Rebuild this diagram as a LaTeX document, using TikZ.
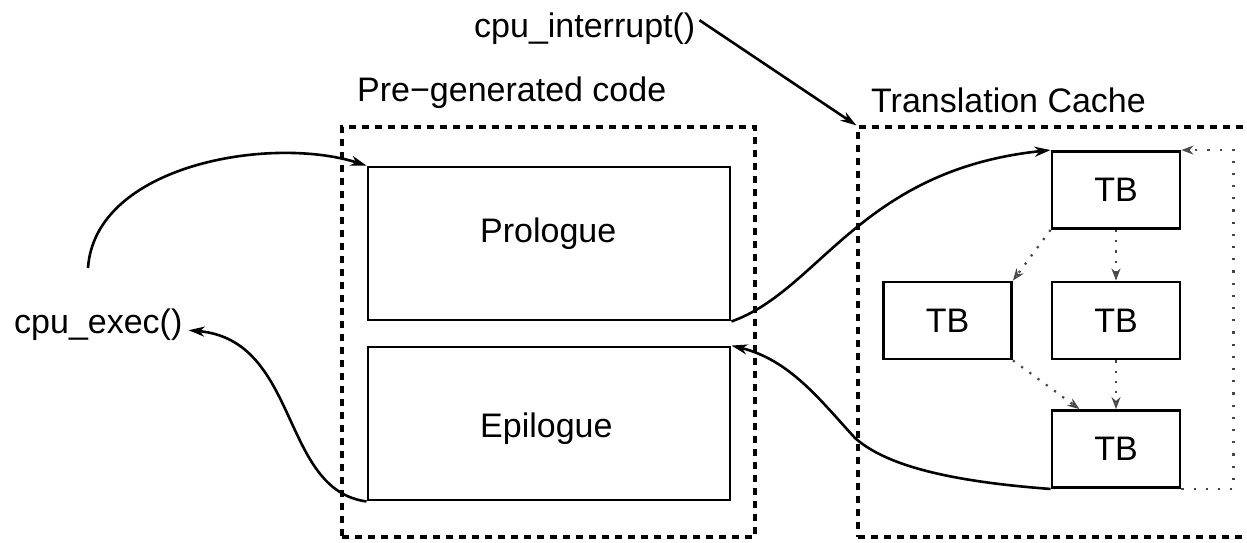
\documentclass[tikz,border=0pt]{standalone}
\usepackage{fontspec}
\setmainfont{Liberation Sans}
\usetikzlibrary{arrows.meta,calc}
\begin{document}
\begin{tikzpicture}[x=1pt,y=-1pt,
  font=\fontsize{34}{40}\selectfont,
  box/.style={draw, line width=2.9pt, inner sep=0pt},
  tb/.style={box, minimum width=128pt, minimum height=77pt},
  codebox/.style={box, minimum width=362pt, minimum height=153pt},
  container/.style={draw, line width=3.2pt, dash pattern=on 7pt off 6pt, inner sep=0pt},
  lbl/.style={inner sep=0pt, anchor=base west},
  conn/.style={line width=2.6pt, -{Stealth[length=16pt, width=10pt, inset=5pt]}},
  link/.style={gray!55!black, line width=2.2pt, dash pattern=on 2.2pt off 8pt,
    -{Stealth[open, length=12pt, width=9pt, line width=1.6pt]}},
  loop/.style={gray!55!black, line width=2.2pt, dash pattern=on 2.2pt off 10pt,
    -{Stealth[open, length=12pt, width=9pt, line width=1.6pt]}}]
  \useasboundingbox (0,0) rectangle (1247,542);
  \clip (0,0) rectangle (1247,542);

  % containers
  \node[container, minimum width=413pt, minimum height=410pt] (pre) at (548.5,332) {};
  \node[container, minimum width=410pt, minimum height=410pt] (tc) at (1063,332) {};

  % titles and entry points
  \node[lbl] (prelbl) at (357,101) {Pre−generated code};
  \node[lbl] (tclbl) at (871,112) {Translation Cache};
  \node[lbl] (intr) at (474,37) {cpu\_interrupt()};
  \node[lbl] (exec) at (14,333) {cpu\_exec()};

  % pre-generated code blocks
  \node[codebox] (pro) at (549,243.5) {};
  \node[codebox] (epi) at (549,423.5) {};
  \node[lbl] (protxt) at (480,242) {Prologue};
  \node[lbl] (epitxt) at (480,437) {Epilogue};

  % translated blocks
  \node[tb] (tbt) at (1116,190) {TB};
  \node[tb] (tbl) at (947.5,320.5) {TB};
  \node[tb] (tbm) at (1116,320.5) {TB};
  \node[tb] (tbb) at (1116,449) {TB};

  % control flow
  \coordinate (execup) at (88,268);
  \draw[conn] (execup) .. controls (95,165) and (270,135) .. (pro.north west);
  \draw[conn] (epi.south west) .. controls (280,490) and (300,340) .. ($(exec.east)+(6,6)$);
  \draw[conn] (pro.south east) .. controls (820,290) and (860,170) .. (tbt.north west);
  \draw[conn] (tbb.south west) .. controls (930,480) and (880,460) .. (855,438)
                               .. controls (820,400) and (790,360) .. (epi.north east);
  \draw[conn] ($(intr.east)+(4,-8)$) -- (tc.north west);

  % chaining between blocks
  \draw[link] (tbt.south west) -- (tbl.north east);
  \draw[link] (tbt.south) -- (tbm.north);
  \draw[link] (tbl.south east) -- ($(tbb.north west)!0.22!(tbb.north east)$);
  \draw[link] (tbm.south) -- (tbb.north);
  \draw[loop] (tbb.south east) -- ++(52,0) |- (tbt.north east);
\end{tikzpicture}
\end{document}
